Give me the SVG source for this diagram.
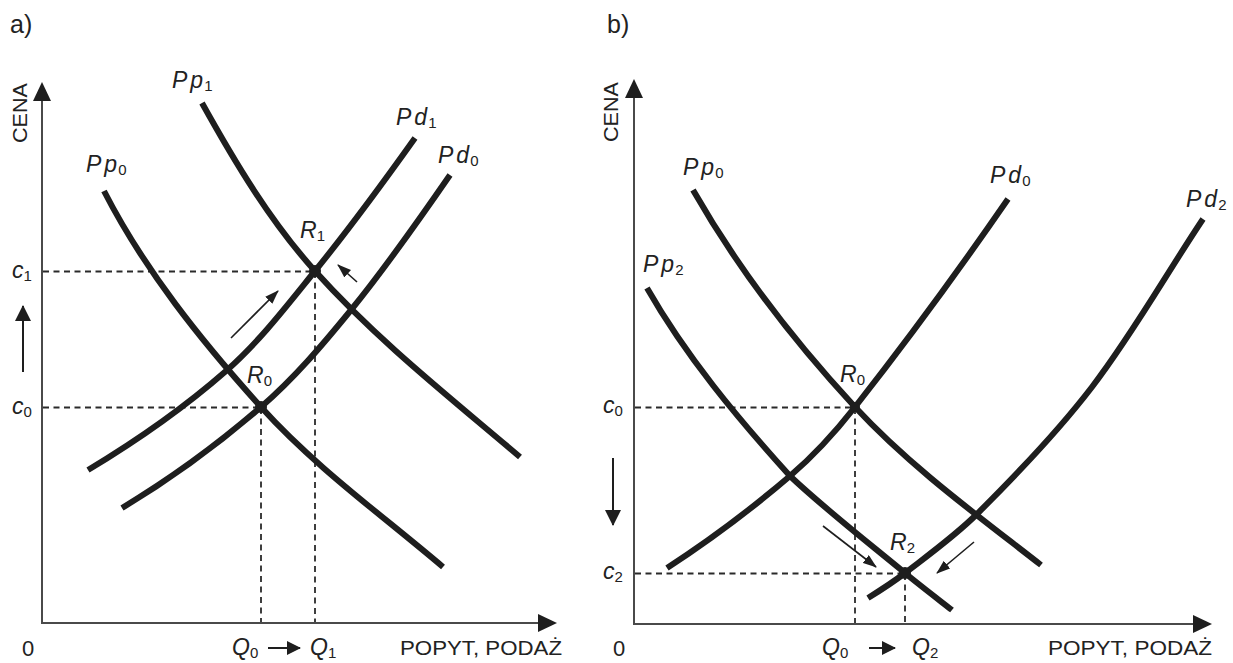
<svg xmlns="http://www.w3.org/2000/svg" width="1233" height="663" viewBox="0 0 1233 663">
<defs>
<style>
.bg{fill:#ffffff}
.axis{stroke:#4a4a4a;stroke-width:2;fill:none}
.axhead{fill:#1e1e1e}
.curve{stroke:#1e1e1e;stroke-width:6;fill:none;stroke-linecap:butt}
.dash{stroke:#2a2a2a;stroke-width:1.8;fill:none;stroke-dasharray:6 4.5}
.thin{stroke:#1e1e1e;stroke-width:1.6;fill:none}
.mid{stroke:#1e1e1e;stroke-width:2;fill:none}
.dot{fill:#1e1e1e}
.t{font-family:"Liberation Sans",Arial,Helvetica,sans-serif;fill:#222}
.var{font-family:"Liberation Sans",Arial,Helvetica,sans-serif;font-style:italic;font-size:23px;fill:#222}
.sub{font-style:normal;font-size:15px}
</style>
<marker id="ahs" markerUnits="userSpaceOnUse" markerWidth="14" markerHeight="10" refX="13" refY="5" orient="auto">
<path d="M0,0 L14,5 L0,10 z" fill="#1e1e1e"/>
</marker>
<marker id="ahb" markerUnits="userSpaceOnUse" markerWidth="16" markerHeight="16" refX="15" refY="8" orient="auto">
<path d="M0,0 L16,8 L0,16 z" fill="#1e1e1e"/>
</marker>
<marker id="ahq" markerUnits="userSpaceOnUse" markerWidth="14" markerHeight="14" refX="13" refY="7" orient="auto">
<path d="M0,0 L14,7 L0,14 z" fill="#1e1e1e"/>
</marker>
</defs>
<rect class="bg" x="0" y="0" width="1233" height="663"/>

<!-- Panel a -->
<g id="panel-a-axes">
<text class="t" x="10" y="33" font-size="25">a)</text>
<path class="axis" d="M42,98 V623 H541"/>
<polygon class="axhead" points="42,82 33,101 51,101"/>
<polygon class="axhead" points="557,623 538,614 538,632"/>
<text class="t" font-size="21" transform="translate(27,143) rotate(-90)" textLength="60" lengthAdjust="spacingAndGlyphs">CENA</text>
<text class="t" x="22" y="656" font-size="22">0</text>
<text class="t" x="400" y="655" font-size="21" textLength="162" lengthAdjust="spacingAndGlyphs">POPYT, PODAŻ</text>
</g>

<g id="a-guides">
<path class="dash" d="M43,271.5 H315 M43,407.5 H261 M315,272 V622 M261,408 V622"/>
<text class="var" x="12" y="278" font-size="27">c<tspan class="sub" dy="3">1</tspan></text>
<text class="var" x="12" y="414" font-size="27">c<tspan class="sub" dy="3">0</tspan></text>
<text class="var" x="232" y="655" font-size="24">Q<tspan class="sub" dy="3">0</tspan></text>
<text class="var" x="310" y="655" font-size="24">Q<tspan class="sub" dy="3">1</tspan></text>
</g>

<g id="a-Pp0">
<path class="curve" d="M104,191 C144.5,270 201.4,340.9 261,407 C315.1,467 381.4,514.6 443,567"/>
<text class="var" x="86" y="172">P<tspan dx="3">p</tspan><tspan class="sub" dx="1" dy="3">0</tspan></text>
</g>
<g id="a-Pp1">
<path class="curve" d="M202,103 C234.8,162 269.9,220.8 315,271 C376.7,339.7 449.7,397.2 520,457"/>
<text class="var" x="172" y="88">P<tspan dx="3">p</tspan><tspan class="sub" dx="1" dy="3">1</tspan></text>
</g>
<g id="a-Pd1">
<path class="curve" d="M88,470 C136.5,440.9 183.4,408.3 226,371 C259.5,341.6 286.9,305.7 315,271 C350,227.9 382.8,183.2 415,138"/>
<text class="var" x="396" y="125">P<tspan dx="3">d</tspan><tspan class="sub" dx="1" dy="3">1</tspan></text>
</g>
<g id="a-Pd0">
<path class="curve" d="M122,508 C171.1,478.5 217.6,444.5 261,407 C294.4,378.2 323.1,344.2 351,310 C386.3,266.8 418.3,220.9 450,175"/>
<text class="var" x="438" y="163">P<tspan dx="3">d</tspan><tspan class="sub" dx="1" dy="3">0</tspan></text>
</g>
<g id="a-R1">
<circle class="dot" cx="315" cy="271" r="6"/>
<text class="var" x="300" y="238">R<tspan class="sub" dy="3">1</tspan></text>
</g>
<g id="a-R0">
<circle class="dot" cx="261" cy="407" r="6"/>
<text class="var" x="247" y="383">R<tspan class="sub" dy="3">0</tspan></text>
</g>

<!-- Panel b -->
<g id="panel-b-axes">
<text class="t" x="607" y="33" font-size="25">b)</text>
<path class="axis" d="M634,96 V624 H1195"/>
<polygon class="axhead" points="634,79 625,98 643,98"/>
<polygon class="axhead" points="1212,624 1193,615 1193,633"/>
<text class="t" font-size="21" transform="translate(618,142) rotate(-90)" textLength="60" lengthAdjust="spacingAndGlyphs">CENA</text>
<text class="t" x="613" y="656" font-size="22">0</text>
<text class="t" x="1048" y="655" font-size="21" textLength="164" lengthAdjust="spacingAndGlyphs">POPYT, PODAŻ</text>
</g>

<g id="b-guides">
<path class="dash" d="M635,407.5 H855 M635,573.5 H905 M855,408 V623 M905,574 V623"/>
<text class="var" x="603" y="413" font-size="27">c<tspan class="sub" dy="3">0</tspan></text>
<text class="var" x="603" y="579" font-size="27">c<tspan class="sub" dy="3">2</tspan></text>
<text class="var" x="822" y="655" font-size="24">Q<tspan class="sub" dy="3">0</tspan></text>
<text class="var" x="912" y="655" font-size="24">Q<tspan class="sub" dy="3">2</tspan></text>
</g>

<g id="b-Pp0">
<path class="curve" d="M693,190 C737.8,268.4 793.6,340.8 855,407 C910.3,466.6 976.9,515 1041,565"/>
<text class="var" x="683" y="175">P<tspan dx="3">p</tspan><tspan class="sub" dx="1" dy="3">0</tspan></text>
</g>
<g id="b-Pp2">
<path class="curve" d="M647,288 C686,356.3 737.2,417.7 790,476 C823.6,507.9 866.4,541.1 905,573 C920.3,585.7 936.3,597.8 952,610"/>
<text class="var" x="643" y="272">P<tspan dx="3">p</tspan><tspan class="sub" dx="1" dy="3">2</tspan></text>
</g>
<g id="b-Pd0">
<path class="curve" d="M667,568 C709.9,540.1 751.1,509.3 790,476 C814,455.5 835.5,431.8 855,407 C908.2,339.3 959.1,269.9 1008,199"/>
<text class="var" x="990" y="183">P<tspan dx="3">d</tspan><tspan class="sub" dx="1" dy="3">0</tspan></text>
</g>
<g id="b-Pd2">
<path class="curve" d="M868,598 C880.7,590.1 893.2,582.1 905,573 C929.6,554.1 955,535.9 977,514 C1017.5,473.7 1057.3,432.3 1092,387 C1132.8,333.7 1165.8,274.8 1203,219"/>
<text class="var" x="1186" y="207">P<tspan dx="3">d</tspan><tspan class="sub" dx="1" dy="3">2</tspan></text>
</g>
<g id="b-R0">
<circle class="dot" cx="855" cy="407" r="5"/>
<text class="var" x="840" y="382">R<tspan class="sub" dy="3">0</tspan></text>
</g>
<g id="b-R2">
<circle class="dot" cx="905" cy="573" r="6"/>
<text class="var" x="890" y="550">R<tspan class="sub" dy="3">2</tspan></text>
</g>

<g id="connectors">
<path class="mid" d="M23,372 V306" marker-end="url(#ahb)"/>
<path class="thin" d="M231,338 L278,291" marker-end="url(#ahs)"/>
<path class="thin" d="M357,282 L338,265" marker-end="url(#ahs)"/>
<path class="mid" d="M268,648 H300" marker-end="url(#ahq)"/>
<path class="mid" d="M613,458 V525" marker-end="url(#ahb)"/>
<path class="thin" d="M823,526 L876,567" marker-end="url(#ahs)"/>
<path class="thin" d="M974,542 L937,573" marker-end="url(#ahs)"/>
<path class="mid" d="M869,648 H895" marker-end="url(#ahq)"/>
</g>
</svg>
